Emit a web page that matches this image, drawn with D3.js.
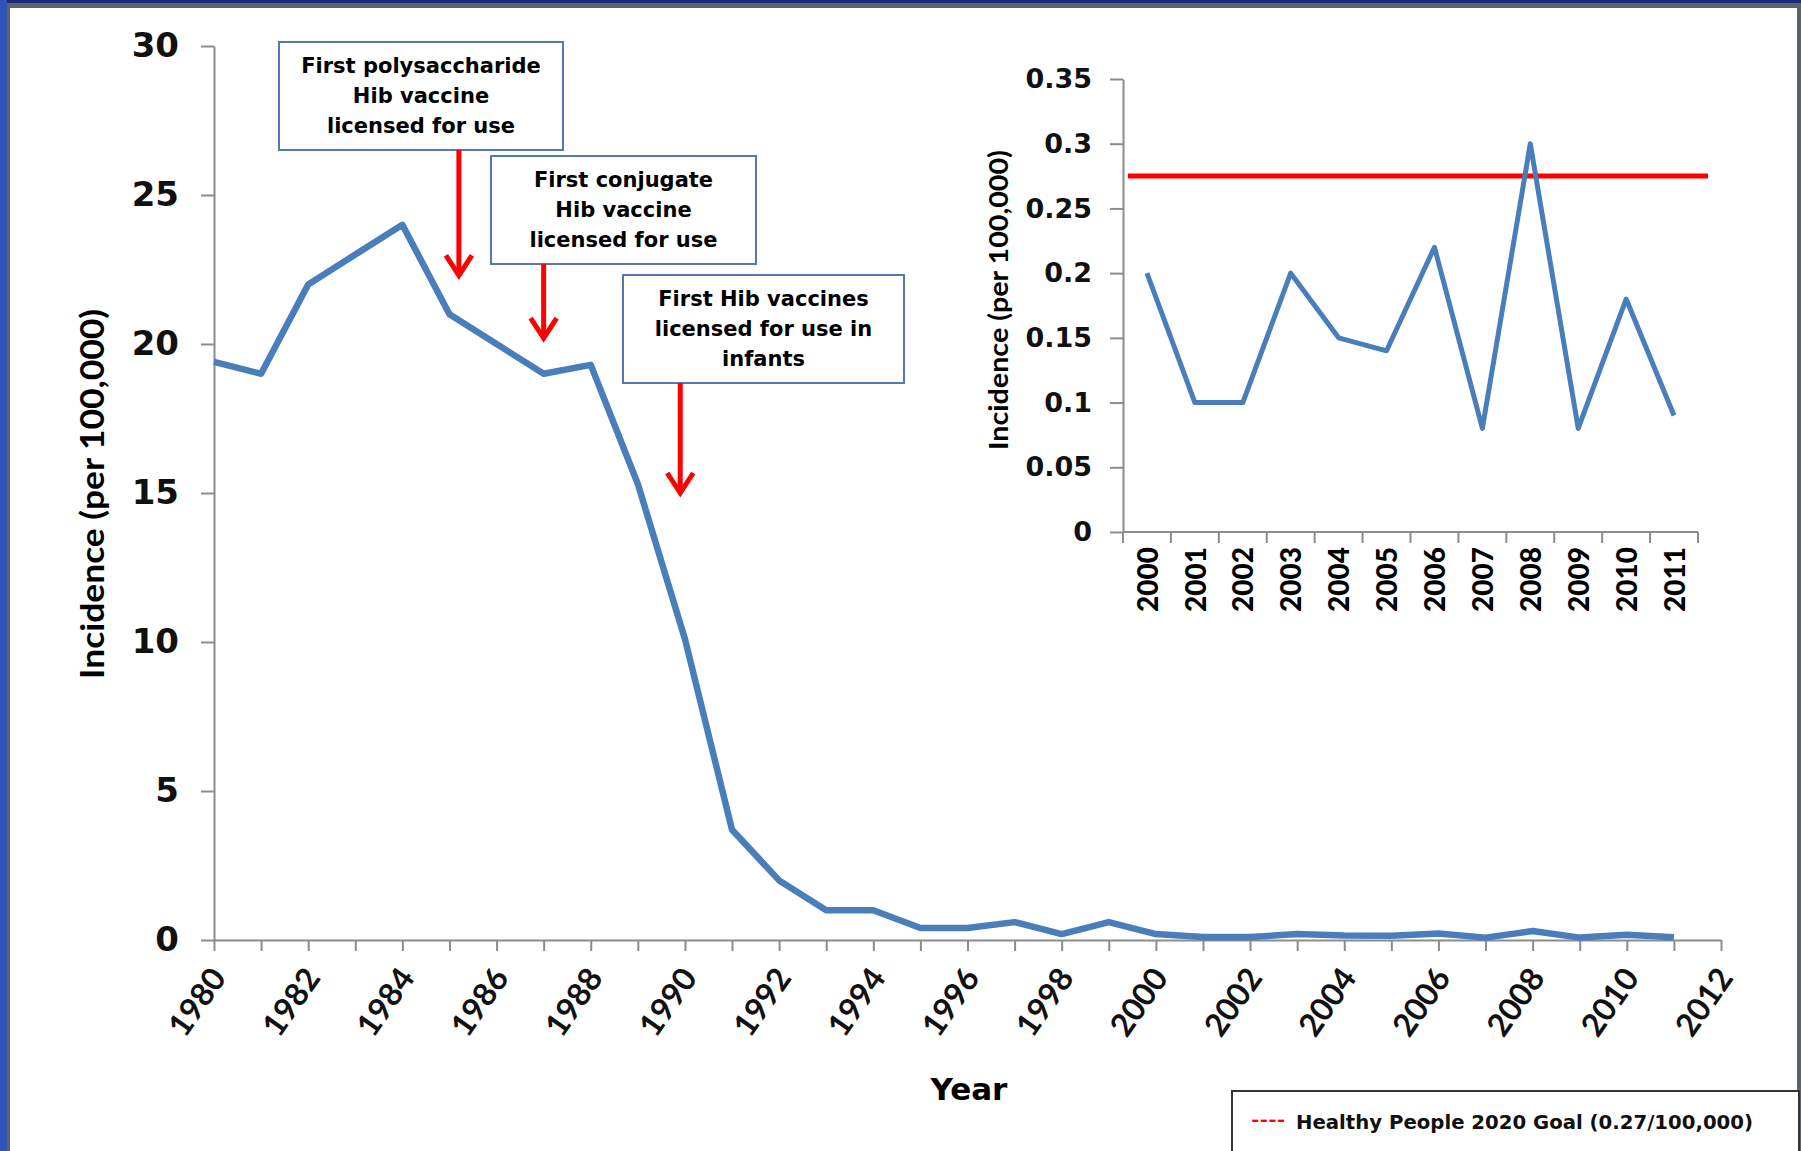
<!DOCTYPE html>
<html>
<head>
<meta charset="utf-8">
<script src="https://cdn.jsdelivr.net/npm/d3@7"></script>
<style>
  html, body { margin:0; padding:0; background:#fff; }
  svg { display:block; }
</style>
</head>
<body>
<div id="chart"></div>
<script>
// main series, Hib incidence per 100,000
var years = [1980, 1981, 1982, 1983, 1984, 1985, 1986, 1987, 1988, 1989, 1990, 1991, 1992, 1993, 1994, 1995,
             1996, 1997, 1998, 1999, 2000, 2001, 2002, 2003, 2004, 2005, 2006, 2007, 2008, 2009, 2010, 2011];
var incidence = [19.4, 19.0, 22.0, 23.0, 24.0, 21.0, 20.0, 19.0, 19.3, 15.3, 10.1, 3.7, 2.0, 1.0, 1.0, 0.4,
                 0.4, 0.6, 0.2, 0.6, 0.2, 0.1, 0.1, 0.2, 0.15, 0.14, 0.22, 0.08, 0.3, 0.08, 0.18, 0.09];

// inset series 2000-2011
var insetYears = ["2000", "2001", "2002", "2003", "2004", "2005", "2006", "2007", "2008", "2009", "2010", "2011"];
var insetIncidence = [0.2, 0.1, 0.1, 0.2, 0.15, 0.14, 0.22, 0.08, 0.3, 0.08, 0.18, 0.09];
var goalValue = 0.275;
var legendText = "Healthy People 2020 Goal (0.27/100,000)";

// ticks
var mainTicksY = [0, 5, 10, 15, 20, 25, 30];
var mainTicksX = [1980, 1981, 1982, 1983, 1984, 1985, 1986, 1987, 1988, 1989, 1990, 1991, 1992, 1993, 1994, 1995, 1996,
                  1997, 1998, 1999, 2000, 2001, 2002, 2003, 2004, 2005, 2006, 2007, 2008, 2009, 2010, 2011, 2012];
var insetTicksY = [0, 0.05, 0.1, 0.15, 0.2, 0.25, 0.3, 0.35];
var insetTickLabels = ["0", "0.05", "0.1", "0.15", "0.2", "0.25", "0.3", "0.35"];

// annotations
var noteLines = [["First polysaccharide", "Hib vaccine", "licensed for use"],
                 ["First conjugate", "Hib vaccine", "licensed for use"],
                 ["First Hib vaccines", "licensed for use in", "infants"]];
var noteYears = [1985.2, 1987, 1989.9];
var noteTips = [22.3, 20.2, 15.0];

var W = 1801, H = 1151;
var blue = "#4a7ebb", axisGrey = "#8c8c8c";

// box layout (pixels)
var boxes = [{x: 279, y: 42, w: 284, h: 108},
             {x: 491, y: 156, w: 265, h: 108},
             {x: 623, y: 275, w: 281, h: 108}];

var svg = d3.select("#chart").append("svg")
    .attr("width", W).attr("height", H);

svg.append("rect").attr("width", W).attr("height", H).attr("fill", "#fff");

//frame
svg.append("rect").attr("x", 0).attr("y", 0).attr("width", W).attr("height", 3).attr("fill", "#1c2a78");
svg.append("rect").attr("x", 0).attr("y", 3).attr("width", W).attr("height", 5).attr("fill", "#59646c");
svg.append("rect").attr("x", 0).attr("y", 0).attr("width", 7).attr("height", H).attr("fill", "#3152b8");
svg.append("rect").attr("x", 7).attr("y", 8).attr("width", 3).attr("height", H).attr("fill", "#59646c");
svg.append("rect").attr("x", 1797).attr("y", 8).attr("width", 4).attr("height", H).attr("fill", "#59646c");

//main scales
var x = d3.scaleLinear().domain([1980, 2012]).range([214, 1721]);
var y = d3.scaleLinear().domain([0, 30]).range([940, 46]);

var yAxis = svg.append("g").attr("transform", "translate(214,0)")
    .call(d3.axisLeft(y).tickValues(mainTicksY).tickSize(13).tickPadding(22).tickSizeOuter(0));
yAxis.selectAll("text").style("font-family", "'DejaVu Sans'").style("font-weight", "bold")
    .style("font-size", "34px").attr("fill", "#111");

var xAxis = svg.append("g").attr("transform", "translate(0,940)")
    .call(d3.axisBottom(x).tickValues(mainTicksX).tickSize(11).tickSizeOuter(0)
        .tickFormat(function(d) { return d % 2 === 0 ? d : ""; }));
xAxis.selectAll("text")
    .attr("transform", "translate(13,38) rotate(-55)")
    .attr("y", 0).attr("dy", 0)
    .style("text-anchor", "end")
    .style("font-family", "Lato").style("font-weight", "bold")
    .style("font-size", "32px").attr("fill", "#111");

svg.selectAll(".domain, .tick line").attr("stroke", axisGrey).attr("stroke-width", 2);

svg.append("text").attr("x", 969).attr("y", 1100).attr("text-anchor", "middle")
    .style("font-family", "'DejaVu Sans'").style("font-weight", "bold").style("font-size", "31px")
    .text("Year");

svg.append("text").attr("transform", "translate(104,494) rotate(-90)").attr("text-anchor", "middle")
    .style("font-family", "Lato").style("font-weight", "bold").style("font-size", "33px")
    .attr("textLength", 370).attr("lengthAdjust", "spacingAndGlyphs")
    .text("Incidence (per 100,000)");

//main line
var line = d3.line()
    .x(function(d, i) { return x(years[i]); })
    .y(function(d) { return y(d); });

svg.append("path").datum(incidence)
    .attr("d", line).attr("fill", "none")
    .attr("stroke", blue).attr("stroke-width", 6.5)
    .attr("stroke-linejoin", "round");

//annotations
var notes = svg.append("g").selectAll("g").data(noteLines).enter().append("g");

notes.append("rect")
    .attr("x", function(d, i) { return boxes[i].x; })
    .attr("y", function(d, i) { return boxes[i].y; })
    .attr("width", function(d, i) { return boxes[i].w; })
    .attr("height", function(d, i) { return boxes[i].h; })
    .attr("fill", "#fff").attr("stroke", "#5578b4").attr("stroke-width", 2);

notes.each(function(d, i) {
    var g = d3.select(this);
    var b = boxes[i];
    d.forEach(function(s, j) {
        g.append("text").attr("x", b.x + b.w / 2).attr("y", b.y + 31 + j * 30)
            .attr("text-anchor", "middle")
            .style("font-family", "'DejaVu Sans'").style("font-weight", "bold").style("font-size", "21px")
            .text(s);
    });
    var ax = x(noteYears[i]), tip = y(noteTips[i]);
    g.append("line").attr("x1", ax).attr("x2", ax).attr("y1", b.y + b.h).attr("y2", tip - 2)
        .attr("stroke", "#ff0000").attr("stroke-width", 5);
    g.append("polyline")
        .attr("points", [[ax - 13, tip - 20], [ax, tip], [ax + 13, tip - 20]].join(" "))
        .attr("fill", "none").attr("stroke", "#ff0000").attr("stroke-width", 5);
});

//inset
var xi = d3.scaleBand().domain(insetYears).range([1123, 1698]);
var yi = d3.scaleLinear().domain([0, 0.35]).range([532, 79]);

var yiAxis = svg.append("g").attr("transform", "translate(1123,0)")
    .call(d3.axisLeft(yi).tickValues(insetTicksY).tickSize(13).tickPadding(18).tickSizeOuter(0)
        .tickFormat(function(d, i) { return insetTickLabels[i]; }));
yiAxis.selectAll("text").style("font-family", "'DejaVu Sans'").style("font-weight", "bold")
    .style("font-size", "27px").attr("fill", "#111");
yiAxis.selectAll(".domain, .tick line").attr("stroke", axisGrey).attr("stroke-width", 2);

var inset = svg.append("g");
inset.append("line").attr("x1", xi.range()[0]).attr("x2", xi.range()[1])
    .attr("y1", yi(0)).attr("y2", yi(0)).attr("stroke", axisGrey).attr("stroke-width", 2);

var bounds = insetYears.map(function(d) { return xi(d); }).concat([xi.range()[1]]);
inset.selectAll(".bt").data(bounds).enter().append("line")
    .attr("x1", function(d) { return d; }).attr("x2", function(d) { return d; })
    .attr("y1", yi(0)).attr("y2", yi(0) + 11)
    .attr("stroke", axisGrey).attr("stroke-width", 2);

inset.selectAll(".xl").data(insetYears).enter().append("text")
    .attr("transform", function(d) { return "translate(" + (xi(d) + xi.bandwidth() / 2) + "," + (yi(0) + 15) + ") rotate(-90)"; })
    .attr("dy", "0.38em").attr("text-anchor", "end")
    .style("font-family", "Lato").style("font-weight", "900").style("font-size", "28px")
    .text(function(d) { return d; });

svg.append("text").attr("transform", "translate(1008,300) rotate(-90)").attr("text-anchor", "middle")
    .style("font-family", "Lato").style("font-weight", "bold").style("font-size", "26px")
    .attr("textLength", 300).attr("lengthAdjust", "spacingAndGlyphs")
    .text("Incidence (per 100,000)");

svg.append("line")
    .attr("x1", xi.range()[0] + 5).attr("x2", xi.range()[1] + 10)
    .attr("y1", yi(goalValue)).attr("y2", yi(goalValue))
    .attr("stroke", "#ff0000").attr("stroke-width", 5);

var insetLine = d3.line()
    .x(function(d, i) { return xi(insetYears[i]) + xi.bandwidth() / 2; })
    .y(function(d) { return yi(d); });

svg.append("path").datum(insetIncidence)
    .attr("d", insetLine).attr("fill", "none")
    .attr("stroke", blue).attr("stroke-width", 5)
    .attr("stroke-linejoin", "round");

//legend
svg.append("rect").attr("x", 1232).attr("y", 1091).attr("width", 567).attr("height", 80)
    .attr("fill", "#fff").attr("stroke", "#333").attr("stroke-width", 2);
svg.append("text").attr("x", 1251).attr("y", 1128)
    .style("font-family", "Lato").style("font-weight", "bold").style("font-size", "23px")
    .attr("fill", "#ff0000").text("----");
svg.append("text").attr("x", 1296).attr("y", 1129)
    .style("font-family", "'DejaVu Sans'").style("font-weight", "bold").style("font-size", "19.7px")
    .attr("fill", "#111").text(legendText);
</script>
</body>
</html>
